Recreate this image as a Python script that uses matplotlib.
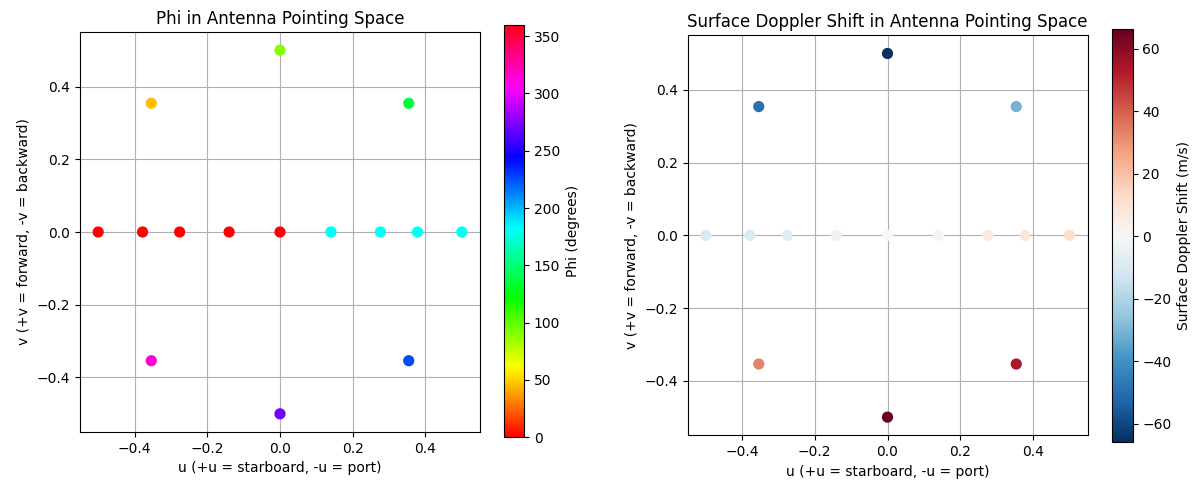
#!/usr/bin/env python3
import matplotlib
matplotlib.use('Agg')
import matplotlib.pyplot as plt

# Data: antenna pointing positions (u, v)
u = [-0.5, -0.378, -0.276, -0.14, 0.0, 0.14, 0.276, 0.378, 0.5,
     0.0, 0.354, -0.354, -0.354, 0.0, 0.354]
v = [0.0, 0.0, 0.0, 0.0, 0.0, 0.0, 0.0, 0.0, 0.0,
     0.5, 0.354, 0.354, -0.354, -0.5, -0.354]

# Phi (degrees) at each point
phi = [0, 0, 0, 0, 0, 180, 180, 180, 180,
       90, 135, 45, 315, 270, 225]

# Surface Doppler shift (m/s) at each point
doppler = [-10, -9, -7, -3, 0, 2, 6, 8, 12,
           -65.7, -31, -49, 33, 66.3, 54]

W, H = 1193, 482
fig = plt.figure(figsize=(W / 100, H / 100), dpi=100)

ax1 = fig.add_axes([80 / W, 1 - 432 / H, 400 / W, 400 / H])
cax1 = fig.add_axes([504 / W, 1 - 437.3 / H, 20 / W, 412.6 / H])
ax2 = fig.add_axes([687.5 / W, 1 - 435.3 / H, 400 / W, 400 / H])
cax2 = fig.add_axes([1112 / W, 1 - 441.7 / H, 20.7 / W, 412.4 / H])

# Left: phi
sc1 = ax1.scatter(u, v, c=phi, cmap='hsv', vmin=0, vmax=360, s=50, zorder=3)
ax1.set_title('Phi in Antenna Pointing Space', fontsize=12)
ax1.set_xlabel('u (+u = starboard, -u = port)')
ax1.set_ylabel('v (+v = forward, -v = backward)')
ax1.grid(True)
cb1 = fig.colorbar(sc1, cax=cax1)
cb1.set_label('Phi (degrees)')

# Right: surface doppler
sc2 = ax2.scatter(u, v, c=doppler, cmap='RdBu_r', s=50, zorder=3)
ax2.set_title('Surface Doppler Shift in Antenna Pointing Space', fontsize=12)
ax2.set_xlabel('u (+u = starboard, -u = port)')
ax2.set_ylabel('v (+v = forward, -v = backward)')
ax2.grid(True)
cb2 = fig.colorbar(sc2, cax=cax2)
cb2.set_label('Surface Doppler Shift (m/s)')

for ax in (ax1, ax2):
    ax.set_xticks([-0.4, -0.2, 0.0, 0.2, 0.4])
    ax.set_yticks([-0.4, -0.2, 0.0, 0.2, 0.4])

fig.savefig('out.png', dpi=100)
